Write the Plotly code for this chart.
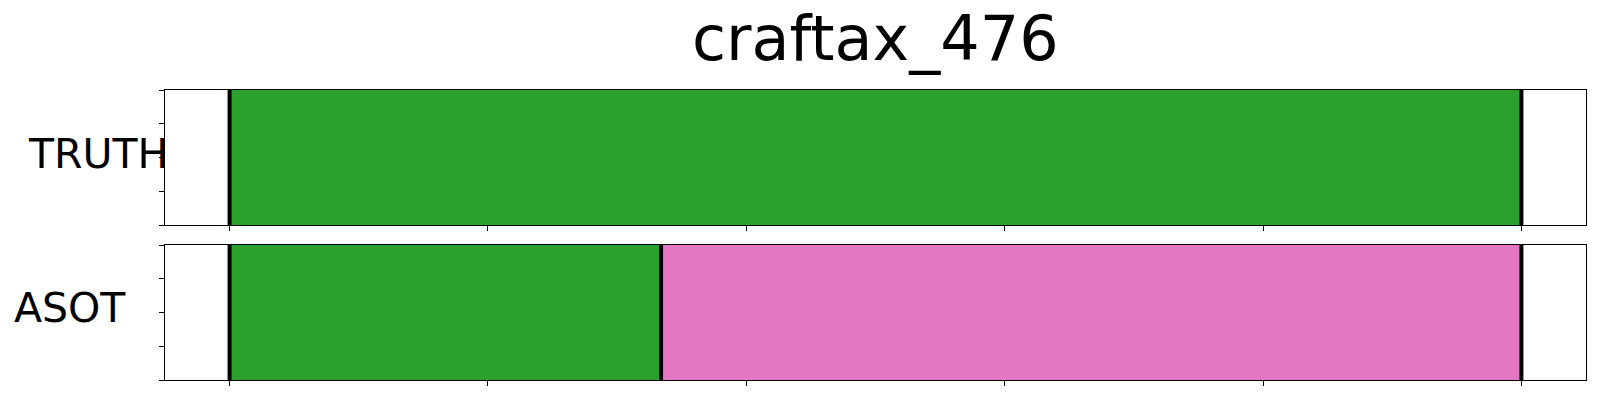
import plotly.graph_objects as go

# ---- data ----
title = "craftax_476"
rows = ["TRUTH", "ASOT"]
total_len = 1000
truth_starts = [0]
truth_ends = [1000]
truth_colors = ["#2ca02c"]
asot_starts = [0, 334]
asot_ends = [334, 1000]
asot_colors = ["#2ca02c", "#e377c2"]
x_ticks = [0, 200, 400, 600, 800, 1000]
y_ticks = [0, 0.25, 0.5, 0.75, 1.0]

W, H = 1600, 400
ML, MR, MT, MB = 165, 14, 90, 20

fig = go.Figure()

def add_row(starts, ends, colors, xa, ya):
    for s, e, c in zip(starts, ends, colors):
        fig.add_trace(go.Bar(orientation="h", base=[s], x=[e - s], y=[0.5], width=1,
                             marker=dict(color=c, line=dict(width=0)),
                             xaxis=xa, yaxis=ya, showlegend=False, hoverinfo="skip"))
    bounds = sorted(set(starts + ends))
    xs, ys = [], []
    for b in bounds:
        xs += [b, b, None]
        ys += [0, 1, None]
    fig.add_trace(go.Scatter(x=xs, y=ys, mode="lines", line=dict(color="black", width=4),
                             xaxis=xa, yaxis=ya, showlegend=False, hoverinfo="skip"))

add_row(truth_starts, truth_ends, truth_colors, "x", "y")
add_row(asot_starts, asot_ends, asot_colors, "x2", "y2")

xr = [-0.05 * total_len, 1.05 * total_len]
axis_common = dict(showline=True, linecolor="black", linewidth=1.2, mirror=True,
                   ticks="outside", ticklen=5, tickwidth=1, tickcolor="black",
                   showticklabels=False, showgrid=False, zeroline=False)

fig.update_layout(
    width=W, height=H,
    margin=dict(l=ML, r=MR, t=MT, b=MB),
    plot_bgcolor="white", paper_bgcolor="white",
    barmode="overlay", bargap=0,
    font=dict(family="DejaVu Sans", color="black"),
    xaxis=dict(domain=[0, 1], range=xr, tickvals=x_ticks, anchor="y", **axis_common),
    yaxis=dict(domain=[0.5345, 1], range=[0, 1], tickvals=y_ticks, anchor="x", **axis_common),
    xaxis2=dict(domain=[0, 1], range=xr, tickvals=x_ticks, anchor="y2", **axis_common),
    yaxis2=dict(domain=[0, 0.4655], range=[0, 1], tickvals=y_ticks, anchor="x2", **axis_common),
)

ph = H - MT - MB
pw = W - ML - MR
def py(p):
    return (H - MB - p) / ph
def px(p):
    return (p - ML) / pw

fig.add_annotation(text=title, xref="paper", yref="paper", x=0.5, y=py(39),
                   xanchor="center", yanchor="middle", showarrow=False,
                   font=dict(size=62, family="DejaVu Sans", color="black"))
fig.add_annotation(text=rows[0], xref="paper", yref="paper", x=px(97.5), y=py(153.6),
                   xanchor="center", yanchor="middle", showarrow=False,
                   font=dict(size=41, family="DejaVu Sans", color="black"))
fig.add_annotation(text=rows[1], xref="paper", yref="paper", x=px(70), y=py(308),
                   xanchor="center", yanchor="middle", showarrow=False,
                   font=dict(size=41, family="DejaVu Sans", color="black"))

fig.write_html("out.html", config={"displayModeBar": False},
               post_script="document.body.style.margin='0px';")
